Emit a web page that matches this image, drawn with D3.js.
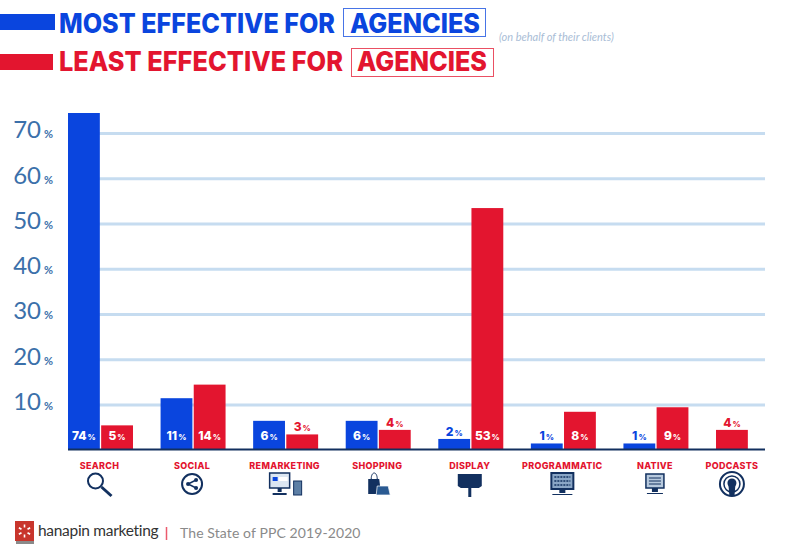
<!DOCTYPE html>
<html>
<head>
<meta charset="utf-8">
<script src="https://cdn.jsdelivr.net/npm/d3@7"></script>
<style>
  body { margin: 0; background: #fff; }
  svg { display: block; }
  text { font-family: Inter, sans-serif; }
</style>
</head>
<body>
<svg id="chart" width="790" height="555"></svg>
<script>
const categories = ["SEARCH", "SOCIAL", "REMARKETING", "SHOPPING", "DISPLAY", "PROGRAMMATIC", "NATIVE", "PODCASTS"];
const seriesKeys = ["most", "least"];
const mostValues = [74, 11, 6, 6, 2, 1, 1, null];
const leastValues = [5, 14, 3, 4, 53, 8, 9, 4];
const yTicks = [10, 20, 30, 40, 50, 60, 70];

const BLUE = "#0a45de", RED = "#e3152f", NAVY = "#12305f", GRID = "#c6dcf0";

const svg = d3.select("#chart");

const x = d3.scaleBand().domain(categories).range([68, 781]).paddingInner(0.298);
const xSub = d3.scaleBand().domain(seriesKeys).range([0, x.bandwidth()]).paddingInner(0.04);
const y = d3.scaleLinear().domain([0, 74]).range([448, 113]);

// y axis, gridlines run behind the bars and sit a touch lower than the bar scale
const yAxis = d3.axisLeft(y).tickValues(yTicks).tickSize(697).tickPadding(15);
const gy = svg.append("g").attr("transform", "translate(765,1.8)").call(yAxis);
gy.select(".domain").remove();
gy.selectAll("line").attr("stroke", GRID).attr("stroke-width", 3);
gy.selectAll("text")
  .text(null)
  .attr("fill", "#3b70aa")
  .attr("dy", "0.5em")
  .style("font-family", "Lato, sans-serif")
  .call(t => t.append("tspan").attr("font-size", 24).text(d => d))
  .call(t => t.append("tspan").attr("font-size", 11).attr("dx", 3).attr("font-weight", 700).text("%"));

// bars, a category with one series puts it in the first slot
const rows = categories.flatMap((c, i) => [
  { cat: c, key: "most", slot: "most", value: mostValues[i] },
  { cat: c, key: "least", slot: mostValues[i] === null ? "most" : "least", value: leastValues[i] }
]).filter(d => d.value !== null);
const barX = d => x(d.cat) + xSub(d.slot);
const color = d => d.key === "most" ? BLUE : RED;

svg.append("g").selectAll("rect").data(rows).join("rect")
  .attr("x", barX)
  .attr("y", d => y(d.value))
  .attr("width", xSub.bandwidth())
  .attr("height", d => y(0) - y(d.value) + 1)
  .attr("fill", color);

// value labels: white inside the tall bars, coloured above the short ones
const isInside = d => d.value >= 5;
const labels = svg.append("g").selectAll("text").data(rows).join("text")
  .attr("x", d => barX(d) + xSub.bandwidth() / 2)
  .attr("y", d => isInside(d) ? 440 : y(d.value) - 3)
  .attr("text-anchor", "middle")
  .attr("fill", d => isInside(d) ? "#fff" : color(d))
  .attr("font-weight", 800);
labels.append("tspan").attr("font-size", 12).text(d => d.value);
labels.append("tspan").attr("font-size", 8).attr("dx", 1).text("%");

// baseline
svg.append("line")
  .attr("x1", 68).attr("x2", 765)
  .attr("y1", y(0) + 1.5).attr("y2", y(0) + 1.5)
  .attr("stroke", NAVY).attr("stroke-width", 2);

// category labels, PODCASTS has only the one bar so it centres on that
const catX = c => c === "PODCASTS" ? x(c) + xSub.bandwidth() / 2 : x(c) + x.bandwidth() / 2 - 1;
svg.append("g").selectAll("text").data(categories).join("text")
  .attr("x", catX)
  .attr("y", 469)
  .attr("text-anchor", "middle")
  .attr("fill", RED)
  .attr("font-size", 9)
  .attr("font-weight", 800)
  .attr("letter-spacing", 0.3)
  .text(d => d);

// icons
const icons = {
  SEARCH(g) {
    g.append("circle").attr("cx", -4).attr("cy", -3).attr("r", 7.5).attr("fill", "none").attr("stroke", NAVY).attr("stroke-width", 2);
    g.append("line").attr("x1", 2).attr("y1", 3).attr("x2", 12).attr("y2", 12).attr("stroke", NAVY).attr("stroke-width", 3);
  },
  SOCIAL(g) {
    g.append("circle").attr("r", 10).attr("fill", "none").attr("stroke", NAVY).attr("stroke-width", 2);
    g.append("path").attr("d", "M4,-4L-4,0L4,4").attr("fill", "none").attr("stroke", NAVY).attr("stroke-width", 1.5);
    [[4, -4], [-4, 0], [4, 4]].forEach(p => g.append("circle").attr("cx", p[0]).attr("cy", p[1]).attr("r", 2).attr("fill", NAVY));
  },
  REMARKETING(g) {
    g.append("rect").attr("x", -15).attr("y", -11).attr("width", 20).attr("height", 15).attr("fill", "#dbe6f2").attr("stroke", NAVY).attr("stroke-width", 1.5);
    g.append("rect").attr("x", -12).attr("y", -7).attr("width", 5).attr("height", 4).attr("fill", BLUE);
    g.append("rect").attr("x", -6).attr("y", -7).attr("width", 9).attr("height", 4).attr("fill", "#fff");
    g.append("path").attr("d", "M-7,4h4v4h-4zM-12,9h14v2h-14z").attr("fill", NAVY);
    g.append("rect").attr("x", 9).attr("y", -3).attr("width", 8).attr("height", 14).attr("fill", "#5d7fa5").attr("stroke", NAVY);
  },
  SHOPPING(g) {
    g.append("path").attr("d", "M-9,-5h11l1,8l6,0v7h-18z").attr("fill", NAVY);
    g.append("path").attr("d", "M-6,-5c0,-8 6,-8 6,0").attr("fill", "none").attr("stroke", NAVY);
    g.append("path").attr("d", "M0,2h11l2,9h-14z").attr("fill", "#2a5a92").attr("stroke", "#fff").attr("stroke-width", 0.7);
  },
  DISPLAY(g) {
    g.append("path").attr("d", "M-12,-10h24v12l-3,2h-18l-3,-2z").attr("fill", NAVY);
    g.append("rect").attr("x", -1.5).attr("y", 4).attr("width", 3).attr("height", 9).attr("fill", NAVY);
  },
  PROGRAMMATIC(g) {
    g.append("rect").attr("x", -11).attr("y", -11).attr("width", 22).attr("height", 16).attr("fill", "#8aa6c6").attr("stroke", NAVY).attr("stroke-width", 2);
    [-7, -3, 1].forEach(dy => g.append("line").attr("x1", -8).attr("x2", 8).attr("y1", dy).attr("y2", dy).attr("stroke", NAVY).attr("stroke-width", 1.5).attr("stroke-dasharray", "2 1"));
    g.append("path").attr("d", "M-3,5h6v4h-6zM-10,10h20v1h-20z").attr("fill", NAVY);
  },
  NATIVE(g) {
    g.append("rect").attr("x", -9).attr("y", -10).attr("width", 18).attr("height", 14).attr("fill", "#b7c9dd").attr("stroke", NAVY).attr("stroke-width", 1.5);
    [-6, -3, 0].forEach(dy => g.append("line").attr("x1", -6).attr("x2", 6).attr("y1", dy).attr("y2", dy).attr("stroke", NAVY));
    g.append("path").attr("d", "M-3,4h6v4h-6zM-8,9h16v1h-16z").attr("fill", NAVY);
  },
  PODCASTS(g) {
    g.append("circle").attr("r", 12).attr("fill", "none").attr("stroke", NAVY).attr("stroke-width", 2);
    g.append("circle").attr("r", 8).attr("fill", "none").attr("stroke", NAVY).attr("stroke-width", 1.5);
    g.append("circle").attr("cy", -1).attr("r", 4.5).attr("fill", NAVY);
    g.append("path").attr("d", "M-3.5,1h7l-1,11h-5z").attr("fill", NAVY);
  }
};
categories.forEach(c => {
  const g = svg.append("g").attr("transform", `translate(${catX(c)},484)`);
  icons[c](g);
});

// title legend
const titles = [
  { label: "MOST EFFECTIVE FOR", color: BLUE, swatch: [0, 14, 55, 16], text: [59, 276], word: [350, 130], box: [343, 8, 142, 28], base: 33 },
  { label: "LEAST EFFECTIVE FOR", color: RED, swatch: [0, 54, 53, 16], text: [59, 284], word: [357, 130], box: [351, 48, 142, 28], base: 71 }
];
titles.forEach(t => {
  svg.append("rect").attr("x", t.swatch[0]).attr("y", t.swatch[1]).attr("width", t.swatch[2]).attr("height", t.swatch[3]).attr("fill", t.color);
  svg.append("text").attr("x", t.text[0]).attr("y", t.base).attr("textLength", t.text[1]).attr("lengthAdjust", "spacingAndGlyphs")
    .attr("font-size", 27).attr("font-weight", 800).attr("fill", t.color).text(t.label);
  svg.append("rect").attr("x", t.box[0] + 0.5).attr("y", t.box[1] + 0.5).attr("width", t.box[2]).attr("height", t.box[3])
    .attr("fill", "none").attr("stroke", t.color).attr("stroke-opacity", 0.75);
  svg.append("text").attr("x", t.word[0]).attr("y", t.base).attr("textLength", t.word[1]).attr("lengthAdjust", "spacingAndGlyphs")
    .attr("font-size", 27).attr("font-weight", 800).attr("fill", t.color).text("AGENCIES");
});
svg.append("text").attr("x", 499).attr("y", 41).attr("font-size", 11).attr("font-style", "italic")
  .attr("fill", "#a9bdd6").style("font-family", "Lato, sans-serif").text("(on behalf of their clients)");

// footer
const logo = svg.append("g").attr("transform", "translate(15,521)");
logo.append("rect").attr("x", 1).attr("y", 3).attr("width", 18).attr("height", 20).attr("fill", "#8a8a8a");
logo.append("rect").attr("width", 19).attr("height", 20).attr("fill", "#c8352c");
d3.range(6).forEach(i => logo.append("line")
  .attr("x1", 9.5).attr("y1", 6.5).attr("x2", 9.5).attr("y2", 3.5)
  .attr("transform", `rotate(${i * 60} 9.5 10)`)
  .attr("stroke", "#fff").attr("stroke-width", 1.6));
svg.append("text").attr("x", 38).attr("y", 536).attr("font-size", 15.5).attr("fill", "#333").style("font-family", "Lato, sans-serif").attr("letter-spacing", -0.3).text("hanapin marketing");
svg.append("line").attr("x1", 166.5).attr("x2", 166.5).attr("y1", 527).attr("y2", 540).attr("stroke", RED).attr("stroke-opacity", 0.7).attr("stroke-width", 1.5);
svg.append("text").attr("x", 180).attr("y", 538).attr("font-size", 14).attr("fill", "#8a8a8a").style("font-family", "Lato, sans-serif").attr("letter-spacing", 0.1).text("The State of PPC 2019-2020");
</script>
</body>
</html>
